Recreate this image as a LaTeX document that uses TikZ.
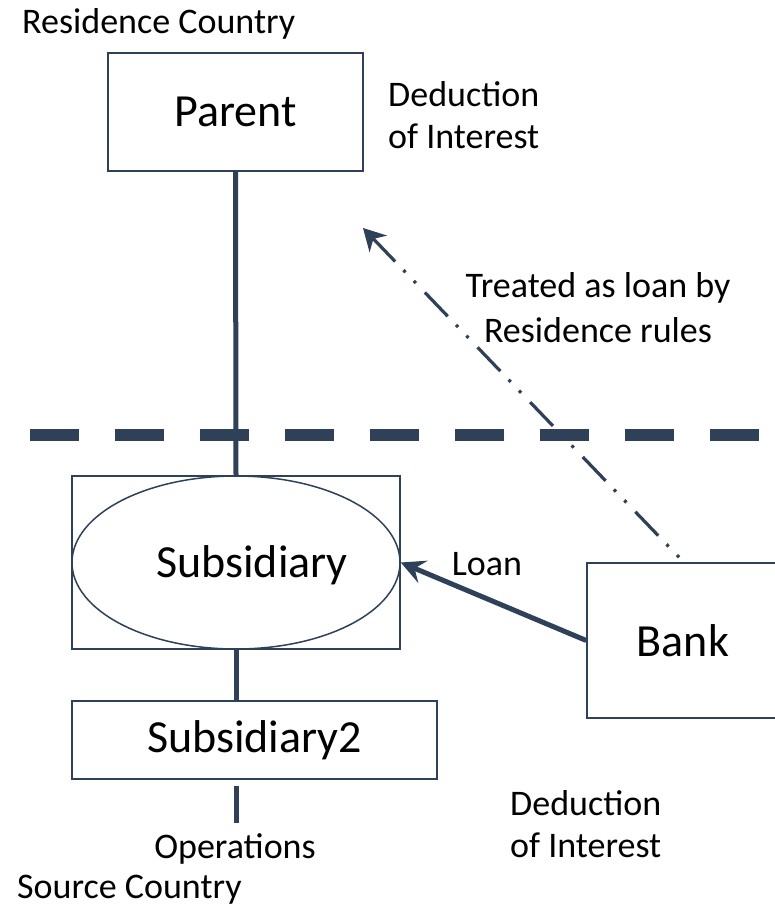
\documentclass[tikz,border=0pt]{standalone}
\usepackage{fontspec}
\setmainfont{Carlito}
\usetikzlibrary{arrows.meta,shapes.geometric}
\definecolor{navy}{RGB}{46,65,88}
\tikzset{
  link/.style={draw=navy, line width=5pt},
  thinbox/.style={draw=navy, line width=1.5pt, rectangle, inner sep=0pt, fill=white},
  bigtext/.style={font=\fontsize{46}{55}\selectfont},
  smalltext/.style={font=\fontsize{36}{42}\selectfont, inner sep=0pt},
  border/.style={draw=navy, line width=12pt, dash pattern=on 49pt off 36pt},
  treated/.style={draw=navy, line width=3.2pt, dash pattern=on 3pt off 12pt on 3pt off 12pt on 33pt off 13pt,
    -{Stealth[length=22pt,width=24pt,inset=7pt]}},
  loanarrow/.style={draw=navy, line width=5pt, -{Stealth[length=24pt,width=24pt,inset=9pt]}}
}
\begin{document}
\begin{tikzpicture}[x=1pt,y=-1pt]
\useasboundingbox[fill=white] (0,0) rectangle (775,908);

% border line between countries
\coordinate (borderL) at (30,435);
\coordinate (borderR) at (775,435);
\draw[border] (borderL) -- (borderR);

% boxes
\node[thinbox, bigtext, minimum width=255pt, minimum height=118pt] (parent) at (235.5,112) {Parent};
\node[thinbox, minimum width=328pt, minimum height=173pt] (subrect) at (236,562.5) {};
\node[draw=navy, line width=1.5pt, ellipse, inner sep=0pt, minimum width=328pt, minimum height=173pt] (sub) at (236,562.5) {};
\node[bigtext, inner sep=0pt, anchor=base] (sublabel) at (252,577) {Subsidiary};
\node[thinbox, bigtext, minimum width=365pt, minimum height=78pt] (sub2) at (254.5,740) {Subsidiary2};
\node[thinbox, bigtext, minimum width=192pt, minimum height=155pt] (bank) at (683,640.5) {Bank};

% ownership lines
\draw[link] (parent.south) -- (subrect.north);
\draw[link] (subrect.south) -- (subrect.south |- sub2.north);
\coordinate (stubtop) at (236,786);
\coordinate (stubbot) at (236,823);
\draw[link] (stubtop) -- (stubbot);

% arrows
\draw[loanarrow] (bank.west) -- (sub.east);
\coordinate (treatedtip) at (363,228);
\draw[treated] ([xshift=-4pt,yshift=5pt]bank.north) -- (treatedtip);

% texts
\node[smalltext, anchor=base west] (rescountry) at (22,33) {Residence Country};
\node[smalltext, anchor=base west] (srccountry) at (17,898) {Source Country};
\node[smalltext, anchor=west, align=left] (dedtop) at (388,115) {Deduction\\of Interest};
\node[smalltext, anchor=west, align=left] (dedbot) at (510,824) {Deduction\\of Interest};
\node[smalltext, align=center, font=\fontsize{36}{45}\selectfont] (treatedlabel) at (598,308) {Treated as loan by\\Residence rules};
\node[smalltext, anchor=base] (loanlabel) at (487,575) {Loan};
\node[smalltext, anchor=base] (operations) at (235,858) {Operations};
\end{tikzpicture}
\end{document}
